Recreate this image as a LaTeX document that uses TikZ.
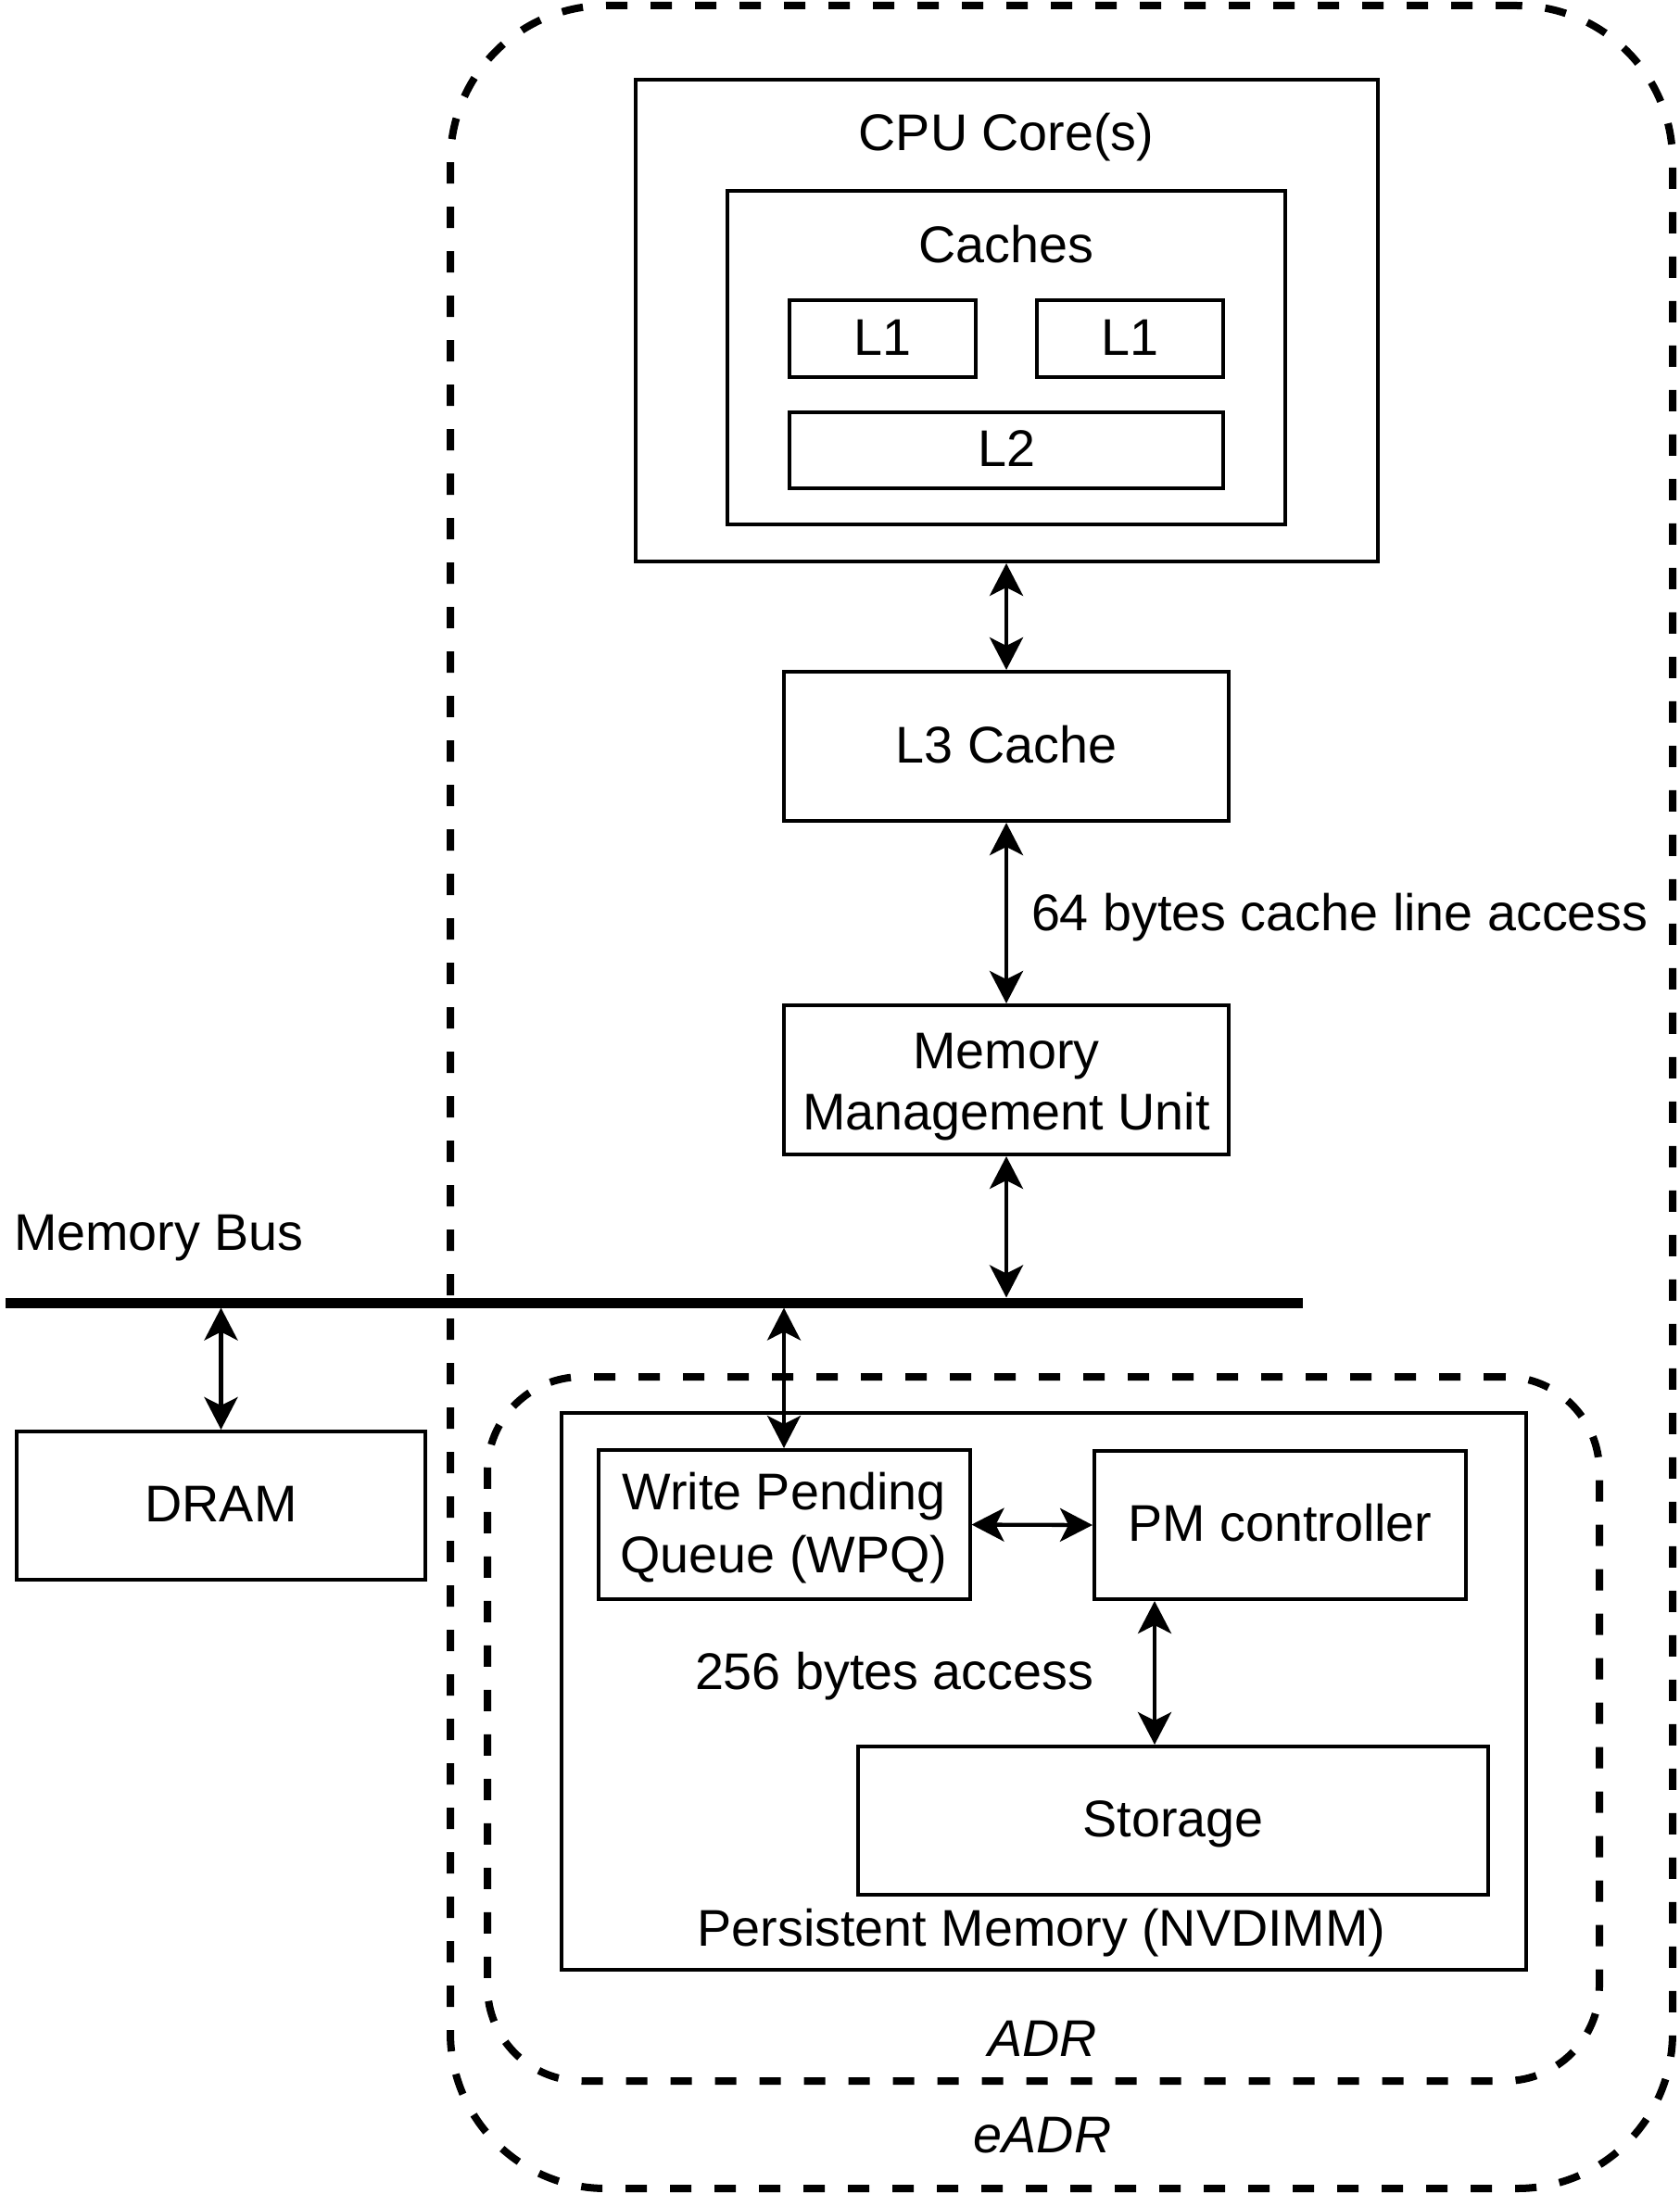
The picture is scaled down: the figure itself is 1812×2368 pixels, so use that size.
\documentclass[tikz,border=0pt]{standalone}
\usepackage{fontspec}
\setmainfont{Liberation Sans}
\usetikzlibrary{arrows.meta}
\begin{document}
\begin{tikzpicture}[x=1pt,y=-1pt,
  every node/.style={font=\fontsize{55.7}{66}\selectfont, inner sep=0pt, outer sep=0pt},
  box/.style={draw, line width=4pt, rectangle},
  boxt/.style={box, text height=35pt, text depth=0pt},
  region/.style={draw, line width=8pt, dash pattern=on 23pt off 25pt, rectangle},
  link/.style={line width=4.3pt, <->, >={Stealth[length=35pt,width=36pt,inset=9pt]}},
  busline/.style={line width=11pt},
  lbl/.style={anchor=base},
  lblw/.style={anchor=base west},
]
\fill[white] (0,0) rectangle (1812,2368);
\useasboundingbox (0,0) rectangle (1812,2368);

% power-fail protection domains
\node[region, rounded corners=168pt, minimum width=1319pt, minimum height=2356pt] (eadr) at (1145.5,1184) {};
\node[region, rounded corners=102pt, minimum width=1200pt, minimum height=760pt] (adr) at (1126,1866) {};

% CPU
\node[box, minimum width=801pt, minimum height=520pt] (cpu) at (1086.5,346) {};
\node[lbl] (cputxt) at (1086,163) {CPU Core(s)};
\node[box, minimum width=602pt, minimum height=360pt] (caches) at (1086,386) {};
\node[lbl] (cachestxt) at (1086,283) {Caches};
\node[boxt, minimum width=201pt, minimum height=83pt] (l1a) at (952.5,365.5) {L1};
\node[boxt, minimum width=201pt, minimum height=83pt] (l1b) at (1219.5,365.5) {L1};
\node[boxt, minimum width=468pt, minimum height=82pt] (l2) at (1086,486) {L2};

\node[boxt, minimum width=480pt, minimum height=161pt] (l3) at (1086,805.5) {L3 Cache};
\node[box, minimum width=480pt, minimum height=161pt] (mmu) at (1086,1165.5) {};
\node[lbl] (mmu1) at (1086,1153) {Memory};
\node[lbl] (mmu2) at (1086,1219) {Management Unit};

\node[lblw] (l64) at (1113,1004) {64 bytes cache line access};

% memory bus
\node[lblw] (buslbl) at (15,1349) {Memory Bus};
\coordinate (busL) at (6,1406);
\coordinate (busR) at (1406,1406);
\draw[busline] (busL) -- (busR);
\coordinate (bm) at (1086,1400.5);
\coordinate (bd) at (238.5,1411.5);
\coordinate (bw) at (846,1411.5);

\node[boxt, minimum width=441pt, minimum height=160pt] (dram) at (238.5,1625) {DRAM};

% persistent memory
\node[box, minimum width=1041pt, minimum height=601pt] (nvd) at (1126.5,1825.5) {};
\node[lbl] (nvdtxt) at (1124,2100) {Persistent Memory (NVDIMM)};
\node[box, minimum width=401pt, minimum height=161pt] (wpq) at (846,1645.5) {};
\node[lbl] (wpq1) at (846,1629) {Write Pending};
\node[lbl] (wpq2) at (846,1697) {Queue (WPQ)};
\node[boxt, minimum width=401pt, minimum height=160pt] (pm) at (1381.5,1646) {PM controller};
\node[boxt, minimum width=680pt, minimum height=160pt] (st) at (1266,1965) {Storage};
\node[lblw] (l256) at (750,1823) {256 bytes access};

\node[lbl] (adrtxt) at (1125,2219) {\itshape ADR};
\node[lbl] (eadrtxt) at (1125,2323) {\itshape eADR};

% connectors
\draw[link, shorten <=2pt, shorten >=2pt] (cpu.south -| l3.north) -- (l3.north);
\draw[link, shorten <=2pt, shorten >=2pt] (l3.south) -- (mmu.north);
\draw[link, shorten <=2pt] (mmu.south) -- (bm);
\draw[link, shorten >=2pt] (bd) -- (dram.north);
\draw[link, shorten >=2pt] (bw) -- (wpq.north);
\draw[link, shorten <=2pt, shorten >=2pt] (wpq.east) -- (pm.west);
\coordinate (ps) at (1246,1800);
\draw[link, shorten <=2pt, shorten >=2pt] (pm.south -| ps) -- (st.north -| ps);
\end{tikzpicture}
\end{document}
